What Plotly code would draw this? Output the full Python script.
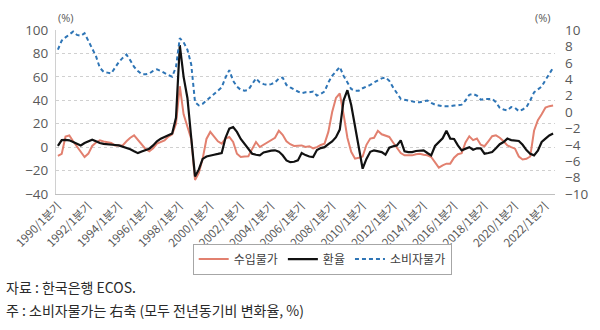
import plotly.graph_objects as go

years = list(range(1990, 2023))
quarters = [f"{y}/{q}분기" for y in years for q in range(1, 5)][:131]
tick_labels = [f"{y}/1분기" for y in range(1990, 2023, 2)]

import_price = [
    -7.5, -5.8, 9.0, 10.0, 5.0, 0.5, -4.5, -8.4, -5.5, 1.0,
    4.0, 5.8, 4.8, 4.4, 3.5, 1.5, 1.5, 1.5, 5.0, 8.0,
    10.1, 6.0, 2.0, -1.5, -3.5, -1.0, 3.0, 4.5, 5.8, 9.0,
    11.0, 20.0, 52.0, 28.0, 18.0, 7.0, -28.0, -22.0, -10.0, 7.0,
    13.0, 9.0, 5.0, 3.0, 7.3, 8.7, 4.4, -5.6, -8.4, -8.0,
    -7.8, -1.5, 4.4, 0.1, 2.0, 4.0, 5.8, 8.0, 14.0, 10.5,
    5.0, 2.5, 1.0, 1.0, 1.5, 0.2, 0.8, -1.0, 0.0, 1.8,
    3.0, 13.0, 30.0, 42.0, 45.8, 28.0, 8.0, -4.0, -9.8, -9.0,
    -8.0, 2.0, 7.3, 8.0, 14.0, 11.0, 10.0, 8.7, 4.0, -1.0,
    -5.0, -7.0, -7.0, -7.0, -6.0, -5.6, -6.5, -7.0, -8.4, -13.5,
    -17.5, -15.5, -14.1, -14.1, -9.0, -6.0, -5.2, 4.0, 9.3, 6.0,
    7.3, 2.0, 0.8, 5.0, 9.3, 10.1, 8.0, 5.0, 1.5, 0.0,
    -1.3, -8.0, -10.5, -10.0, -8.0, 14.0, 23.0, 28.0, 33.8, 35.0,
    35.5,
]

exchange_rate = [
    1.0, 6.0, 6.2, 5.8, 4.4, 3.0, 1.5, 3.5, 5.0, 6.4,
    5.0, 3.5, 2.8, 2.3, 2.0, 1.8, 1.5, 0.5, -0.6, -1.8,
    -3.5, -5.1, -3.8, -2.4, -1.3, 1.5, 5.0, 7.2, 8.7, 10.0,
    11.6, 25.0, 87.0, 60.0, 42.0, 8.0, -25.0, -19.0, -10.0, -8.0,
    -7.0, -6.5, -5.8, -5.0, 8.0, 15.8, 17.2, 13.0, 7.0, 3.0,
    -1.5, -5.6, -6.5, -7.0, -4.5, -3.5, -3.0, -2.7, -3.8, -7.0,
    -11.3, -12.8, -12.5, -11.3, -5.0, -6.8, -8.0, -8.4, -2.5, -0.8,
    0.0, 2.5, 4.8, 8.5, 15.0, 40.0, 48.6, 36.0, 17.0, -2.0,
    -18.4, -10.0, -4.0, -2.7, -3.5, -4.2, -6.5, -0.5, 0.8, 1.5,
    5.8, -3.5, -4.2, -4.2, -3.3, -2.7, -2.7, -5.0, -7.0, 1.0,
    4.5, 7.5, 14.0, 7.3, 7.0, 1.5, -2.7, -1.5, 0.0, -2.2,
    -1.0, -1.0, -5.6, -5.0, -4.2, -1.0, 2.5, 4.4, 7.3, 6.0,
    5.8, 5.3, 2.0, -2.5, -5.6, -7.0, -3.0, 4.4, 7.3, 10.0,
    11.6,
]

cpi = [
    7.6, 8.7, 9.1, 9.4, 9.8, 9.4, 9.3, 9.6, 8.7, 7.8,
    6.8, 5.4, 4.9, 4.8, 4.7, 5.4, 6.1, 6.6, 7.0, 6.3,
    5.5, 5.0, 4.6, 4.6, 4.7, 5.0, 5.2, 5.0, 4.7, 4.5,
    4.3, 5.5, 9.0, 8.5, 7.6, 5.8, 1.2, 0.8, 1.0, 1.4,
    1.8, 2.2, 2.6, 3.0, 4.2, 5.1, 3.8, 3.1, 2.7, 2.6,
    2.7, 3.4, 4.1, 3.6, 3.4, 3.3, 3.4, 3.6, 4.1, 4.2,
    3.3, 3.0, 2.7, 2.5, 2.3, 2.4, 2.4, 2.5, 2.0, 2.2,
    2.5, 3.6, 4.4, 5.0, 5.5, 4.4, 3.6, 2.8, 2.6, 2.6,
    2.9, 3.1, 3.3, 3.6, 3.9, 4.1, 4.2, 3.8, 3.0, 2.3,
    1.6, 1.5, 1.4, 1.3, 1.2, 1.2, 1.3, 1.4, 1.1, 0.9,
    0.8, 0.7, 0.7, 0.7, 0.8, 0.8, 0.9, 1.4, 2.1, 2.2,
    2.0, 1.5, 1.6, 1.6, 1.6, 1.2, 0.5, 0.3, 0.2, 0.6,
    0.5, 0.1, 0.3, 0.6, 1.4, 2.4, 2.7, 3.1, 3.9, 4.6,
    5.4,
]

FONT = "Noto Sans CJK KR"
GREY = "#595959"

# plot area in pixels (for positioning notes in paper coordinates)
L_PX, R_PX, T_PX, B_PX = 56, 555, 30, 194
W_PX, H_PX = R_PX - L_PX, B_PX - T_PX


def px2paper(x, y):
    return (x - L_PX) / W_PX, (B_PX - y) / H_PX


fig = go.Figure()
fig.add_trace(go.Scatter(x=quarters, y=import_price, name="수입물가", mode="lines",
                         line=dict(color="#E2806F", width=2)))
fig.add_trace(go.Scatter(x=quarters, y=exchange_rate, name="환율", mode="lines",
                         line=dict(color="#111111", width=2.2)))
fig.add_trace(go.Scatter(x=quarters, y=cpi, name="소비자물가", mode="lines", yaxis="y2",
                         line=dict(color="#2E75B6", width=2, dash="4px,3px")))

fig.update_layout(
    width=600, height=330,
    margin=dict(l=L_PX, r=600 - R_PX, t=T_PX, b=330 - B_PX, autoexpand=False),
    paper_bgcolor="white", plot_bgcolor="white",
    font=dict(family=FONT, size=12, color=GREY),
    showlegend=True,
    legend=dict(orientation="h", xref="container", yref="container",
                x=0.537, y=0.215, xanchor="center", yanchor="middle",
                bordercolor="#A6A6A6", borderwidth=1,
                font=dict(family=FONT, size=12, color="#404040"),
                itemwidth=30, tracegroupgap=0),
    xaxis=dict(type="category", range=[-0.5, 130.5], tickmode="array",
               tickvals=tick_labels, ticktext=tick_labels, tickangle=-45,
               showgrid=False, showline=True, linecolor="#BFBFBF", linewidth=1,
               automargin=False,
               ticks="", tickfont=dict(family=FONT, size=11.5, color=GREY)),
    yaxis=dict(range=[-40, 100], dtick=20, showgrid=True, gridcolor="#D0D0D0",
               griddash="dot", zeroline=False, showline=True, linecolor="#D0D0D0",
               automargin=False, ticklabelstandoff=4,
               tickfont=dict(family="Open Sans", size=13.5, color=GREY), ticks=""),
    yaxis2=dict(range=[-10, 10], dtick=2, overlaying="y", side="right",
                showgrid=False, zeroline=False, showline=False,
                automargin=False, ticklabelstandoff=9,
                tickfont=dict(family="Open Sans", size=13.5, color=GREY), ticks=""),
)

nx, ny = px2paper(56, 18)
fig.add_annotation(text="(%)", xref="paper", yref="paper", x=nx, y=ny,
                   xanchor="left", yanchor="middle", showarrow=False,
                   font=dict(family="Open Sans", size=11, color=GREY))
nx, ny = px2paper(553, 18)
fig.add_annotation(text="(%)", xref="paper", yref="paper", x=nx, y=ny,
                   xanchor="right", yanchor="middle", showarrow=False,
                   font=dict(family="Open Sans", size=11, color=GREY))
nx, ny = px2paper(4, 287)
fig.add_annotation(text="자료 : 한국은행 ECOS.", xref="paper", yref="paper",
                   x=nx, y=ny, xanchor="left", yanchor="middle",
                   showarrow=False, font=dict(family=FONT, size=14, color="#2A2A2A"))
nx, ny = px2paper(4, 310)
fig.add_annotation(text="주 : 소비자물가는 右축 (모두 전년동기비 변화율, %)", xref="paper",
                   yref="paper", x=nx, y=ny, xanchor="left", yanchor="middle",
                   showarrow=False, font=dict(family=FONT, size=14, color="#2A2A2A"))

fig.write_html("out.html")
